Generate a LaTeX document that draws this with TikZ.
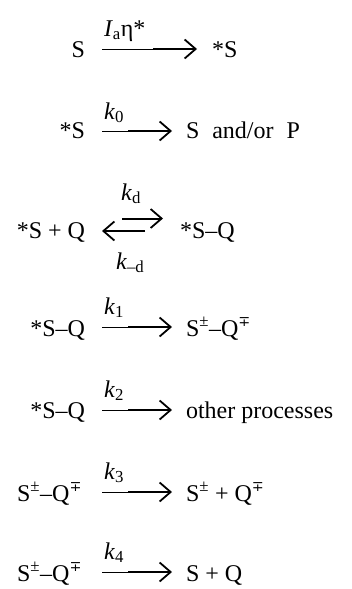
\documentclass[tikz,border=0pt]{standalone}
\usepackage{fontspec}
\setmainfont{Liberation Serif}
\newfontfamily\dvsfont{DejaVu Serif}
\newcommand{\mpsym}{{\dvsfont\scalebox{0.85}{∓}}}
\usetikzlibrary{arrows.meta}
\tikzset{
  txt/.style={inner sep=0pt, outer sep=0pt, font=\fontsize{24}{28}\selectfont},
  lft/.style={txt, anchor=base east},
  rgt/.style={txt, anchor=base west},
  lbl/.style={txt, anchor=base west},
  shaftthin/.style={line width=0.9pt},
  shaftthick/.style={line width=1.8pt, -{Straight Barb[length=11pt,width=19pt,line width=1.8pt]}},
  dblshaft/.style={line width=2pt, -{Straight Barb[length=11pt,width=19pt,line width=1.8pt]}},
}
\begin{document}
\begin{tikzpicture}[x=1pt,y=-1pt]
\useasboundingbox (0,0) rectangle (352,589);
% row 1
\node[lft] (l1) at (85,57) {S};
\node[rgt] (r1) at (212,57) {*S};
\node[lbl] (k1a) at (104,36) {\textit{I}\textsubscript{a}η*};
\coordinate (a1s) at (102,49); \coordinate (a1m) at (153,49); \coordinate (a1e) at (197,49);
\draw[shaftthin] (a1s) -- (a1m);
\draw[shaftthick] (a1m) -- (a1e);
% row 2
\node[lft] (l2) at (85,138) {*S};
\node[rgt] (r2) at (186,138) {S\hspace{13pt}and/or\hspace{13pt}P};
\node[lbl] (k2a) at (104,119) {\textit{k}\textsubscript{0}};
\coordinate (a2s) at (102,131); \coordinate (a2m) at (128,131); \coordinate (a2e) at (172,131);
\draw[shaftthin] (a2s) -- (a2m);
\draw[shaftthick] (a2m) -- (a2e);
% row 3
\node[lft] (l3) at (85,238) {*S + Q};
\node[rgt] (r3) at (180,238) {*S–Q};
\node[lbl] (k3a) at (121,200) {\textit{k}\textsubscript{d}};
\node[lbl] (k3b) at (116,269) {\textit{k}\textsubscript{–d}};
\coordinate (a3s) at (122,218.5); \coordinate (a3e) at (163,218.5);
\coordinate (b3s) at (145,231); \coordinate (b3e) at (102,231);
\draw[dblshaft] (a3s) -- (a3e);
\draw[dblshaft] (b3s) -- (b3e);
% row 4
\node[lft] (l4) at (85,336) {*S–Q};
\node[rgt] (r4) at (186,336) {S\textsuperscript{±}–Q\textsuperscript{\mpsym}};
\node[lbl] (k4a) at (104,314) {\textit{k}\textsubscript{1}};
\coordinate (a4s) at (102,327); \coordinate (a4m) at (128,327); \coordinate (a4e) at (172,327);
\draw[shaftthin] (a4s) -- (a4m);
\draw[shaftthick] (a4m) -- (a4e);
% row 5
\node[lft] (l5) at (85,418) {*S–Q};
\node[rgt] (r5) at (186,418) {other processes};
\node[lbl] (k5a) at (104,397) {\textit{k}\textsubscript{2}};
\coordinate (a5s) at (102,410); \coordinate (a5m) at (128,410); \coordinate (a5e) at (172,410);
\draw[shaftthin] (a5s) -- (a5m);
\draw[shaftthick] (a5m) -- (a5e);
% row 6
\node[lft] (l6) at (82,501) {S\textsuperscript{±}–Q\textsuperscript{\mpsym}};
\node[rgt] (r6) at (186,501) {S\textsuperscript{±} + Q\textsuperscript{\mpsym}};
\node[lbl] (k6a) at (104,479) {\textit{k}\textsubscript{3}};
\coordinate (a6s) at (102,492); \coordinate (a6m) at (128,492); \coordinate (a6e) at (172,492);
\draw[shaftthin] (a6s) -- (a6m);
\draw[shaftthick] (a6m) -- (a6e);
% row 7
\node[lft] (l7) at (82,581) {S\textsuperscript{±}–Q\textsuperscript{\mpsym}};
\node[rgt] (r7) at (186,581) {S + Q};
\node[lbl] (k7a) at (104,559) {\textit{k}\textsubscript{4}};
\coordinate (a7s) at (102,572); \coordinate (a7m) at (128,572); \coordinate (a7e) at (172,572);
\draw[shaftthin] (a7s) -- (a7m);
\draw[shaftthick] (a7m) -- (a7e);
\end{tikzpicture}
\end{document}
